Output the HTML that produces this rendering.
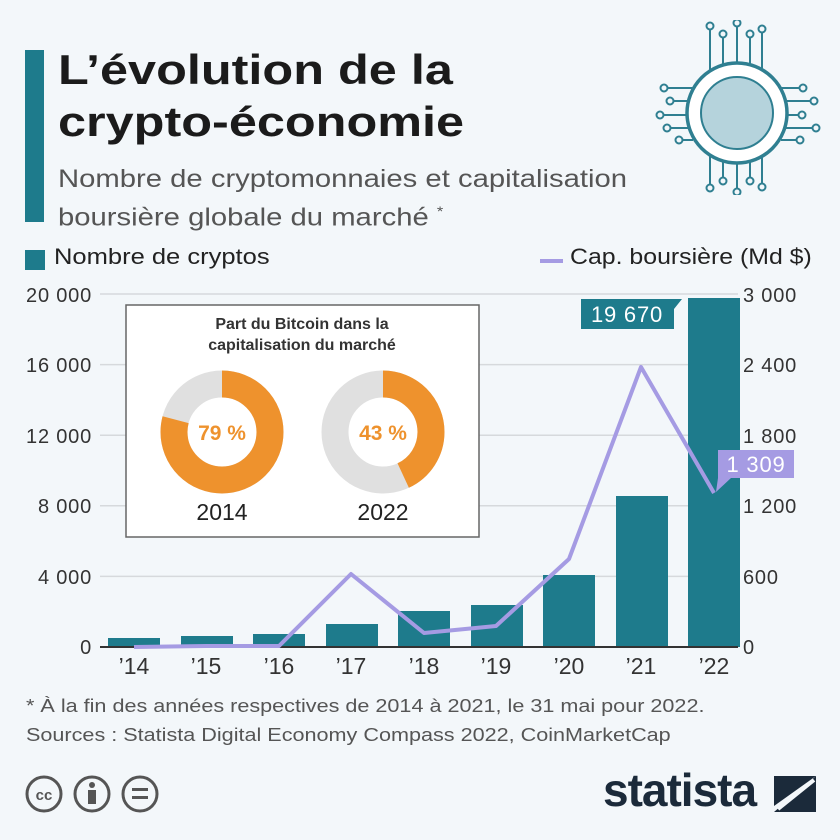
<!DOCTYPE html><html><head><style>
body{margin:0;width:840px;height:840px;background:#f3f7fa;font-family:"Liberation Sans",sans-serif;overflow:hidden;position:relative}
.a{position:absolute;white-space:nowrap}
</style></head><body>
<div class="a" style="left:25px;top:50px;width:19px;height:172px;background:#1e7b8c"></div>
<div class="a" style="left:58px;top:44px;font-size:42px;font-weight:bold;color:#1b1b1b;line-height:52px;transform:scaleX(1.2);transform-origin:0 0">L’évolution de la<br>crypto-économie</div>
<div class="a" style="left:58px;top:163px;font-size:25px;color:#555;line-height:32px;transform:scaleX(1.17);transform-origin:0 0">Nombre de cryptomonnaies et capitalisation<br>boursière globale du marché <sup style="font-size:14px">*</sup></div>
<svg class="a" style="left:642px;top:20px" width="190" height="175" viewBox="0 0 190 175">
<g stroke="#2f7f91" stroke-width="2" fill="none">
<path d="M68 50V8M81 45V14M95 42V3M108 45V14M120 50V9M68 125V167M81 130V161M95 133V172M108 130V161M120 125V167M51 68H22M48 81H28M46 95H18M48 108H25M51 120H37M139 68H161M142 81H172M144 95H160M142 108H174M139 120H158"/>
<circle cx="68" cy="6" r="3.5" fill="#f3f7fa"/><circle cx="81" cy="14" r="3.5" fill="#f3f7fa"/><circle cx="95" cy="3" r="3.5" fill="#f3f7fa"/><circle cx="108" cy="14" r="3.5" fill="#f3f7fa"/><circle cx="120" cy="9" r="3.5" fill="#f3f7fa"/>
<circle cx="68" cy="168" r="3.5" fill="#f3f7fa"/><circle cx="81" cy="161" r="3.5" fill="#f3f7fa"/><circle cx="95" cy="172" r="3.5" fill="#f3f7fa"/><circle cx="108" cy="161" r="3.5" fill="#f3f7fa"/><circle cx="120" cy="167" r="3.5" fill="#f3f7fa"/>
<circle cx="22" cy="68" r="3.5" fill="#f3f7fa"/><circle cx="28" cy="81" r="3.5" fill="#f3f7fa"/><circle cx="18" cy="95" r="3.5" fill="#f3f7fa"/><circle cx="25" cy="108" r="3.5" fill="#f3f7fa"/><circle cx="37" cy="120" r="3.5" fill="#f3f7fa"/>
<circle cx="161" cy="68" r="3.5" fill="#f3f7fa"/><circle cx="172" cy="81" r="3.5" fill="#f3f7fa"/><circle cx="160" cy="95" r="3.5" fill="#f3f7fa"/><circle cx="174" cy="108" r="3.5" fill="#f3f7fa"/><circle cx="158" cy="120" r="3.5" fill="#f3f7fa"/>
<circle cx="95" cy="93" r="50" stroke-width="3.5" fill="#fff"/>
<circle cx="95" cy="93" r="36" fill="#b5d3dc" stroke-width="2"/>
</g></svg>
<div class="a" style="left:25px;top:250px;width:20px;height:20px;background:#1e7b8c"></div>
<div class="a" style="left:54px;top:244px;font-size:22px;color:#222;transform:scaleX(1.16);transform-origin:0 0">Nombre de cryptos</div>
<div class="a" style="left:540px;top:259px;width:23px;height:4px;background:#a59be3"></div>
<div class="a" style="left:570px;top:244px;font-size:22px;color:#222;transform:scaleX(1.13);transform-origin:0 0">Cap. boursière (Md $)</div>
<svg class="a" style="left:0;top:0" width="840" height="840">
<g stroke="#d6d9dc" stroke-width="1.5">
<line x1="100" y1="294" x2="738" y2="294"/><line x1="100" y1="364.6" x2="738" y2="364.6"/><line x1="100" y1="435.2" x2="738" y2="435.2"/><line x1="100" y1="505.8" x2="738" y2="505.8"/><line x1="100" y1="576.4" x2="738" y2="576.4"/></g>
<g font-size="20" fill="#333" text-anchor="end" style="letter-spacing:0.8px">
<text x="92" y="302">20 000</text><text x="92" y="372">16 000</text><text x="92" y="443">12 000</text><text x="92" y="513">8 000</text><text x="92" y="584">4 000</text><text x="92" y="654">0</text></g>
<g font-size="20" fill="#333" style="letter-spacing:0.8px"><text x="743" y="302">3 000</text><text x="743" y="372">2 400</text><text x="743" y="443">1 800</text><text x="743" y="513">1 200</text><text x="743" y="584">600</text><text x="743" y="654">0</text></g>
<g fill="#1e7b8c">
<rect x="108" y="638" width="52" height="9"/><rect x="181" y="636" width="52" height="11"/><rect x="253" y="634" width="52" height="13"/><rect x="326" y="624" width="52" height="23"/><rect x="398" y="611" width="52" height="36"/><rect x="471" y="605" width="52" height="42"/><rect x="543" y="575" width="52" height="72"/><rect x="616" y="496" width="52" height="151"/><rect x="688" y="298" width="52" height="349"/></g>
<line x1="100" y1="647" x2="738" y2="647" stroke="#333" stroke-width="2"/>
<polyline points="134,647 206,646 279,646 351,574 424,633 496,626 569,559 641,367 714,493" fill="none" stroke="#a59be3" stroke-width="4" stroke-linejoin="round"/>
<g font-size="23" fill="#333" text-anchor="middle"><text x="134" y="674">’14</text><text x="206" y="674">’15</text><text x="279" y="674">’16</text><text x="351" y="674">’17</text><text x="424" y="674">’18</text><text x="496" y="674">’19</text><text x="569" y="674">’20</text><text x="641" y="674">’21</text><text x="714" y="674">’22</text></g>
<path d="M581 299H682L674 309V329H581Z" fill="#1e7b8c"/>
<text x="627" y="322" font-size="22" fill="#fff" text-anchor="middle" style="letter-spacing:0.8px">19 670</text>
<path d="M718 450H794V478H731L716 492L718 478Z" fill="#a59be3"/>
<text x="756" y="472" font-size="22" fill="#fff" text-anchor="middle" style="letter-spacing:0.8px">1 309</text>
<rect x="126" y="305" width="353" height="232" fill="#fff" stroke="#666" stroke-width="1.5"/>
<text x="302" y="329" font-size="16" font-weight="bold" fill="#333" text-anchor="middle">Part du Bitcoin dans la</text>
<text x="302" y="350" font-size="16" font-weight="bold" fill="#333" text-anchor="middle">capitalisation du marché</text>
<circle cx="222" cy="432" r="48" fill="none" stroke="#e0e0e0" stroke-width="27"/>
<circle cx="222" cy="432" r="48" fill="none" stroke="#ee922d" stroke-width="27" stroke-dasharray="238.3 400" transform="rotate(-90 222 432)"/>
<circle cx="383" cy="432" r="48" fill="none" stroke="#e0e0e0" stroke-width="27"/>
<circle cx="383" cy="432" r="48" fill="none" stroke="#ee922d" stroke-width="27" stroke-dasharray="129.7 400" transform="rotate(-90 383 432)"/>
<text x="222" y="440" font-size="21" font-weight="bold" fill="#ee922d" text-anchor="middle">79 %</text>
<text x="383" y="440" font-size="21" font-weight="bold" fill="#ee922d" text-anchor="middle">43 %</text>
<text x="222" y="520" font-size="23" fill="#222" text-anchor="middle">2014</text>
<text x="383" y="520" font-size="23" fill="#222" text-anchor="middle">2022</text>
</svg>
<div class="a" style="left:26px;top:692px;font-size:18px;color:#555;line-height:29px;transform:scaleX(1.2);transform-origin:0 0">* À la fin des années respectives de 2014 à 2021, le 31 mai pour 2022.<br>Sources : Statista Digital Economy Compass 2022, CoinMarketCap</div>
<svg class="a" style="left:24px;top:773px" width="150" height="42">
<g fill="none" stroke="#555" stroke-width="3"><circle cx="20" cy="21" r="17"/><circle cx="68" cy="21" r="17"/><circle cx="116" cy="21" r="17"/></g>
<text x="20" y="27" font-size="15" font-weight="bold" fill="#555" text-anchor="middle">cc</text>
<circle cx="68" cy="12" r="3" fill="#555"/><rect x="64" y="17" width="8" height="14" fill="#555"/>
<rect x="108" y="15" width="16" height="3" fill="#555"/><rect x="108" y="23" width="16" height="3" fill="#555"/>
</svg>
<div class="a" style="left:603px;top:763px;font-size:46px;font-weight:bold;color:#1b2a3a;letter-spacing:-1px">statista</div>
<svg class="a" style="left:774px;top:776px" width="42" height="36"><path d="M0 36L42 0V36Z" fill="#1b2a3a"/><path d="M0 0H42L0 30Z" fill="#1b2a3a"/><path d="M4 33L40 4" stroke="#f3f7fa" stroke-width="4"/></svg>
</body></html>
